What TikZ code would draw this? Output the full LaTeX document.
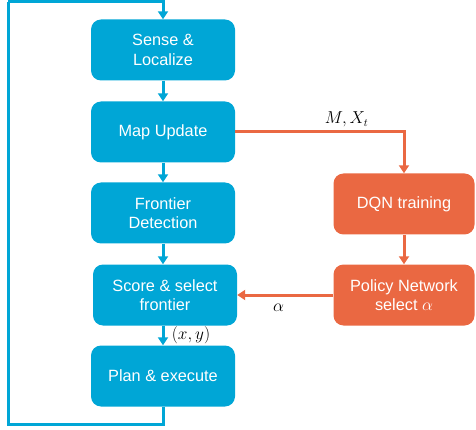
\documentclass[tikz,border=0pt]{standalone}
\usepackage{fontspec}
\setmainfont{Liberation Sans}
\usetikzlibrary{arrows.meta}
\definecolor{boxblue}{RGB}{0,166,214}
\definecolor{boxorange}{RGB}{234,104,66}
\tikzset{
	stage/.style={rectangle,rounded corners=10pt,fill=boxblue,text=white,minimum width=144pt,minimum height=61pt,align=center,font=\fontsize{16.3}{19.5}\selectfont},
	learn/.style={stage,fill=boxorange,minimum width=141pt},
	flow/.style={draw=boxblue,line width=3pt,-{Triangle[length=8pt,width=10pt]}},
	rlflow/.style={flow,draw=boxorange},
	lbl/.style={font=\fontsize{16}{18}\selectfont}
}
\begin{document}
\begin{tikzpicture}[x=1pt,y=-1pt]
	\useasboundingbox (0,0) rectangle (476,430);
	\node[stage] (sense) at (163,50)  {Sense \&\\Localize};
	\node[stage] (map) at (163,132)  {Map Update};
	\node[stage] (front) at (163,213)  {Frontier\\Detection};
	\node[stage] (score) at (165,295)  {Score \& select\\frontier};
	\node[stage] (plan) at (163,376)  {Plan \& execute};
	\node[learn] (dqn) at (404,204)  {DQN training};
	\node[learn] (policy) at (404,295)  {Policy Network\\select $\alpha$};
	\coordinate (loopbl) at (8,424);
	\coordinate (looptl) at (8,2);
	\draw[flow] (sense) -- (map);
	\draw[flow] (map) -- (front);
	\draw[flow] (front.south) -- (front.south |- score.north);
	\draw[flow] (plan.north |- score.south) -- node[lbl,right,xshift=4pt] {$(x,y)$} (plan.north);
	\draw[flow,-] (plan.south) |- (loopbl) -- (looptl);
	\draw[flow] (looptl) -| (sense.north);
	\draw[rlflow] (map.east) -| node[lbl,pos=.33,above] {$M,X_t$} (dqn.north);
	\draw[rlflow] (dqn) -- (policy);
	\draw[rlflow] (policy.west) -- node[lbl,pos=.57,below,yshift=-4pt] {$\alpha$} (score.east);
\end{tikzpicture}
\end{document}
